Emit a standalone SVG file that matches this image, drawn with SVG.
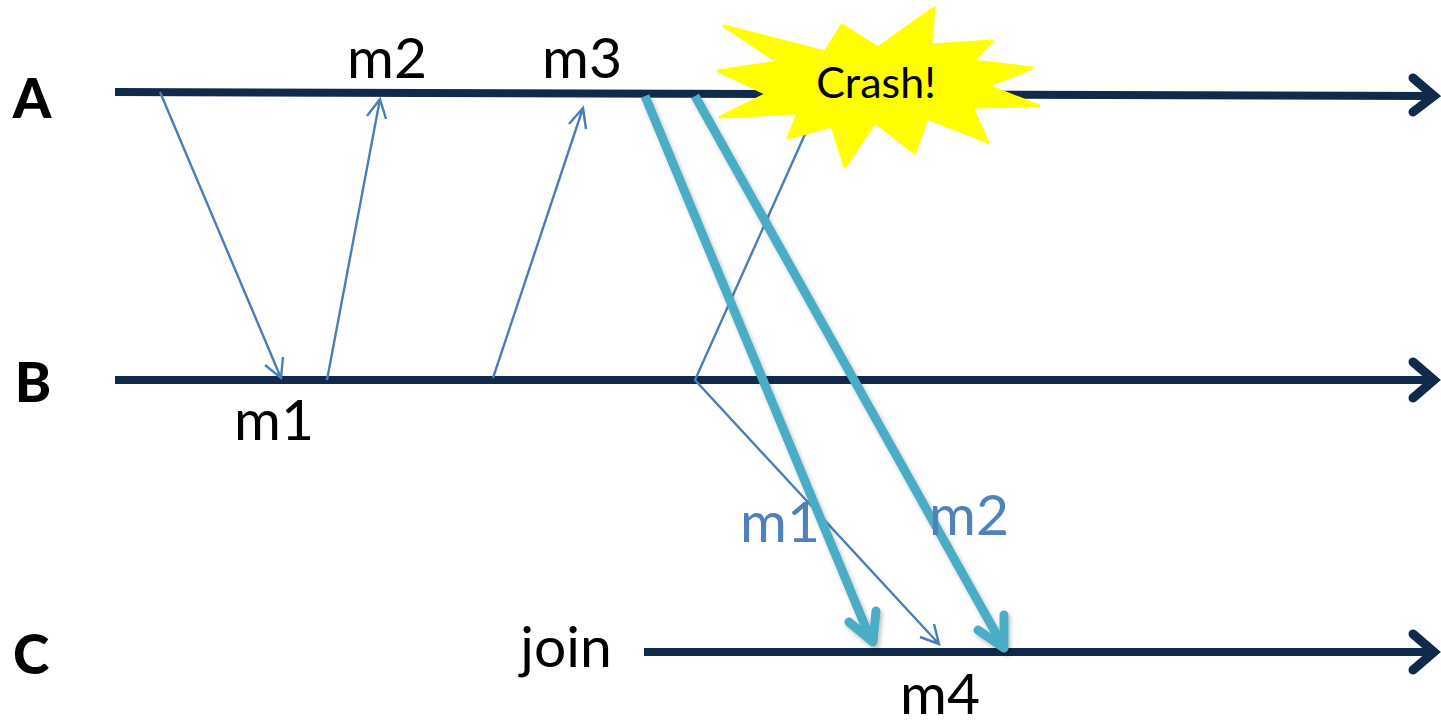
<svg xmlns="http://www.w3.org/2000/svg" width="1441" height="721" viewBox="0 0 1441 721">
<defs><filter id="sh" x="-10%" y="-10%" width="120%" height="120%"><feDropShadow dx="2" dy="3" stdDeviation="2" flood-color="#000" flood-opacity="0.25"/></filter></defs>
<style>
.t{font-family:"Lato","Open Sans","Liberation Sans",sans-serif;font-size:57px;fill:#000}
.b{fill:#4f81bd}
.l{font-family:"Lato","Open Sans","Liberation Sans",sans-serif;font-size:55px;font-weight:900;fill:#000}
.tl{fill:none;stroke:#11294a;stroke-width:8}
.hd{fill:none;stroke:#11294a;stroke-width:9;stroke-linecap:round;stroke-linejoin:miter}
.m{fill:none;stroke:#4a7ebb;stroke-width:2.4}
.hh{fill:none;stroke:#4bacc6;stroke-width:9;stroke-linejoin:round}
.hr{stroke-linecap:round}
</style>
<rect width="1441" height="721" fill="#fff"/>
<g id="connectors">
<path class="tl" d="M115 92 L1434 96"/><path class="hd" d="M1413 78 L1434 96 L1413 112"/>
<path class="tl" d="M115 380 H1434"/><path class="hd" d="M1413 362 L1434 380 L1413 398"/>
<path class="tl" d="M644 652 H1434"/><path class="hd" d="M1413 634 L1434 652 L1413 670"/>
<path class="m" d="M160 92 L281 378 M283 357 L281 378 L265 365"/>
<path class="m" d="M327 380 L380 99 M367 116 L380 99 L386 119"/>
<path class="m" d="M493 378 L583 108 M569 124 L583 108 L586 129"/>
<path class="m" d="M806 132 L695 380 L939 644 M920 637 L939 644 L934 624"/>
<g filter="url(#sh)"><path class="hh" d="M645 96 L871 640"/><path class="hh hr" d="M849 622 L873 642 L876 611"/></g>
<g filter="url(#sh)"><path class="hh" d="M695 96 L1003 646"/><path class="hh hr" d="M978 630 L1004 648 L1004 615"/></g>
</g>
<g id="crash"><polygon points="724,26 825,52 842,25 878,48 934,8 931,45 992,41 973,61 1032,68 988,86 1039,106 972,107 988,142 927,118 915,153 875,122 845,167 832,126 788,138 798,113 720,117 767,94 718,71 778,62" fill="#ffff00" stroke="#ffff00" stroke-width="3" stroke-linejoin="round"/>
<text x="876" y="98" text-anchor="middle" font-family="Lato,Open Sans,sans-serif" font-size="43">Crash!</text></g>
<g id="labels">
<text class="l" x="32" y="118" text-anchor="middle">A</text>
<text class="l" x="33" y="402" text-anchor="middle">B</text>
<text class="l" x="31" y="674" text-anchor="middle">C</text>
<text class="t" x="387" y="78" text-anchor="middle">m2</text>
<text class="t" x="582" y="78" text-anchor="middle">m3</text>
<text class="t" x="274" y="440" text-anchor="middle">m1</text>
<text class="t" x="566" y="667" text-anchor="middle">join</text>
<text class="t" x="940" y="714" text-anchor="middle">m4</text>
<text class="t b" x="780" y="542" text-anchor="middle">m1</text>
<text class="t b" x="969" y="535" text-anchor="middle">m2</text>
</g>
</svg>
